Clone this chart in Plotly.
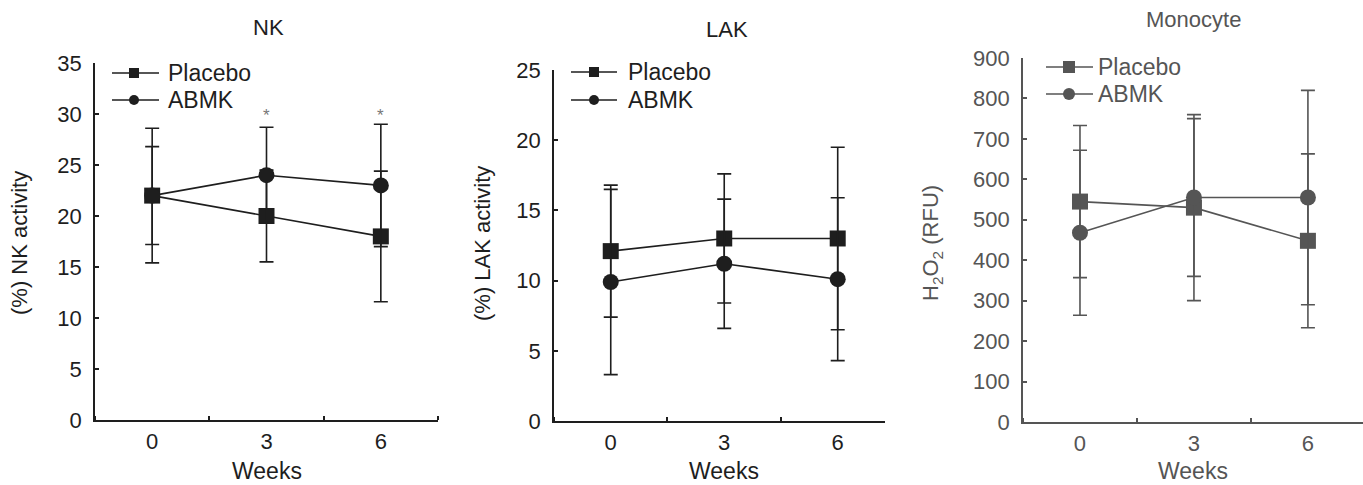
import plotly.graph_objects as go

W, H = 1363, 485

weeks = [0, 3, 6]
week_labels = ["0", "3", "6"]
series_names = ["Placebo", "ABMK"]

# NK panel
nk_placebo = [22.0, 20.0, 18.0]
nk_placebo_err = [6.6, 4.5, 6.4]
nk_abmk = [22.0, 24.0, 23.0]
nk_abmk_err = [4.8, 4.7, 6.0]
nk_sig_weeks = [3, 6]

# LAK panel
lak_placebo = [12.1, 13.0, 13.0]
lak_placebo_err = [4.7, 4.6, 6.5]
lak_abmk = [9.9, 11.2, 10.1]
lak_abmk_err = [6.6, 4.6, 5.8]

# Monocyte panel
mono_placebo = [545, 530, 448]
mono_placebo_err = [188, 230, 215]
mono_abmk = [468, 555, 555]
mono_abmk_err = [204, 195, 265]

FONT = "Liberation Sans, Arial, Helvetica, sans-serif"
DARK = "#1e1e1e"
GREY = "#555555"


def px_x(p):
    return p / W


def px_y(p):
    return 1 - p / H


panels = [
    dict(key="", title="NK", ytitle="(%) NK activity", plac=nk_placebo, plac_e=nk_placebo_err,
         abmk=nk_abmk, abmk_e=nk_abmk_err, color=DARK, xdom=(95, 438), ydom=(420, 63),
         xr=[-1.5, 7.5], yr=[0, 35], dtick=5, title_xy=(268, 27), ytitle_x=19, weeks_x=267,
         leg=dict(x0=112, x1=159, mx=134, tx=166, rows=(73, 100), ms=10)),
    dict(key="2", title="LAK", ytitle="(%) LAK activity", plac=lak_placebo, plac_e=lak_placebo_err,
         abmk=lak_abmk, abmk_e=lak_abmk_err, color=DARK, xdom=(554, 885), ydom=(421, 70),
         xr=[-1.5, 7.25], yr=[0, 25], dtick=5, title_xy=(727, 29), ytitle_x=482, weeks_x=724,
         leg=dict(x0=571, x1=617, mx=594, tx=626, rows=(72, 100), ms=10)),
    dict(key="3", title="Monocyte", ytitle="H<sub>2</sub>O<sub>2</sub> (RFU)", plac=mono_placebo,
         plac_e=mono_placebo_err, abmk=mono_abmk, abmk_e=mono_abmk_err, color=GREY,
         xdom=(1023, 1363), ydom=(422, 58), xr=[-1.5, 7.45], yr=[0, 900], dtick=100,
         title_xy=(1193, 20), ytitle_x=932, weeks_x=1193,
         leg=dict(x0=1046, x1=1093, mx=1069, tx=1096, rows=(67, 94), ms=12)),
]

fig = go.Figure()
annotations = []
shapes = []
layout = {}

for p in panels:
    k = p["key"]
    xa = "x" + k
    ya = "y" + k
    c = p["color"]
    for vals, errs, sym in ((p["plac"], p["plac_e"], "square"), (p["abmk"], p["abmk_e"], "circle")):
        fig.add_trace(go.Scatter(
            x=weeks, y=vals, mode="lines+markers", xaxis=xa, yaxis=ya, showlegend=False,
            line=dict(color=c, width=1.6),
            marker=dict(symbol=sym, size=16, color=c),
            error_y=dict(type="data", array=errs, visible=True, thickness=1.6, width=7, color=c),
        ))

    xname = "xaxis" + k
    yname = "yaxis" + k
    layout[xname] = dict(
        domain=[px_x(p["xdom"][0]), min(1.0, px_x(p["xdom"][1]))], range=p["xr"],
        anchor=ya, tickvals=weeks, ticktext=week_labels, ticks="", showline=True,
        linecolor=c, linewidth=1.6, showgrid=False, zeroline=False, automargin=False,
        tickfont=dict(family=FONT, size=22, color=c), ticklabelstandoff=1,
        minor=dict(tick0=1.5, dtick=3, ticks="inside", ticklen=4, tickwidth=1.6, tickcolor=c, showgrid=False),
        fixedrange=True,
    )
    layout[yname] = dict(
        domain=[px_y(p["ydom"][0]), px_y(p["ydom"][1])], range=p["yr"], anchor=xa,
        dtick=p["dtick"], tick0=0, ticks="inside", ticklen=4, tickwidth=1.6, tickcolor=c,
        showline=True, linecolor=c, linewidth=1.6, showgrid=False, zeroline=False, automargin=False,
        tickfont=dict(family=FONT, size=22, color=c), ticklabelstandoff=7, fixedrange=True,
    )

    # manual legend (line + marker + label)
    lg = p["leg"]
    for name, sym, row in zip(series_names, ("square", "circle"), lg["rows"]):
        shapes.append(dict(type="line", xref="paper", yref="paper",
                           x0=px_x(lg["x0"]), x1=px_x(lg["x1"]), y0=px_y(row), y1=px_y(row),
                           line=dict(color=c, width=1.6)))
        h = lg["ms"] / 2
        shapes.append(dict(type="rect" if sym == "square" else "circle", xref="paper", yref="paper",
                           x0=px_x(lg["mx"] - h), x1=px_x(lg["mx"] + h),
                           y0=px_y(row - h), y1=px_y(row + h),
                           fillcolor=c, line=dict(width=0)))
        annotations.append(dict(
            text=name, x=px_x(lg["tx"]), y=px_y(row), xref="paper", yref="paper", showarrow=False,
            font=dict(family=FONT, size=23, color=c), xanchor="left", yanchor="middle",
        ))

    annotations.append(dict(
        text=p["title"], x=px_x(p["title_xy"][0]), y=px_y(p["title_xy"][1]), xref="paper", yref="paper",
        showarrow=False, font=dict(family=FONT, size=22, color=c), xanchor="center", yanchor="middle",
    ))
    annotations.append(dict(
        text=p["ytitle"], x=px_x(p["ytitle_x"]), y=px_y(243), xref="paper", yref="paper",
        showarrow=False, textangle=-90, font=dict(family=FONT, size=22, color=c),
        xanchor="center", yanchor="middle",
    ))
    annotations.append(dict(
        text="Weeks", x=px_x(p["weeks_x"]), y=px_y(471), xref="paper", yref="paper",
        showarrow=False, font=dict(family=FONT, size=23, color=c), xanchor="center", yanchor="middle",
    ))

# significance asterisks on NK panel
for wk in nk_sig_weeks:
    annotations.append(dict(
        text="*", x=wk, y=29.9, xref="x", yref="y", showarrow=False,
        font=dict(family=FONT, size=17, color="#777777"), xanchor="center", yanchor="middle",
    ))

fig.update_layout(
    width=W, height=H, margin=dict(l=0, r=0, t=0, b=0, pad=0, autoexpand=False),
    paper_bgcolor="white", plot_bgcolor="white", showlegend=False,
    annotations=annotations, shapes=shapes, **layout,
)

fig.write_html("out.html", config={"displayModeBar": False},
               post_script="document.body.style.margin='0';document.body.style.overflow='hidden';")
